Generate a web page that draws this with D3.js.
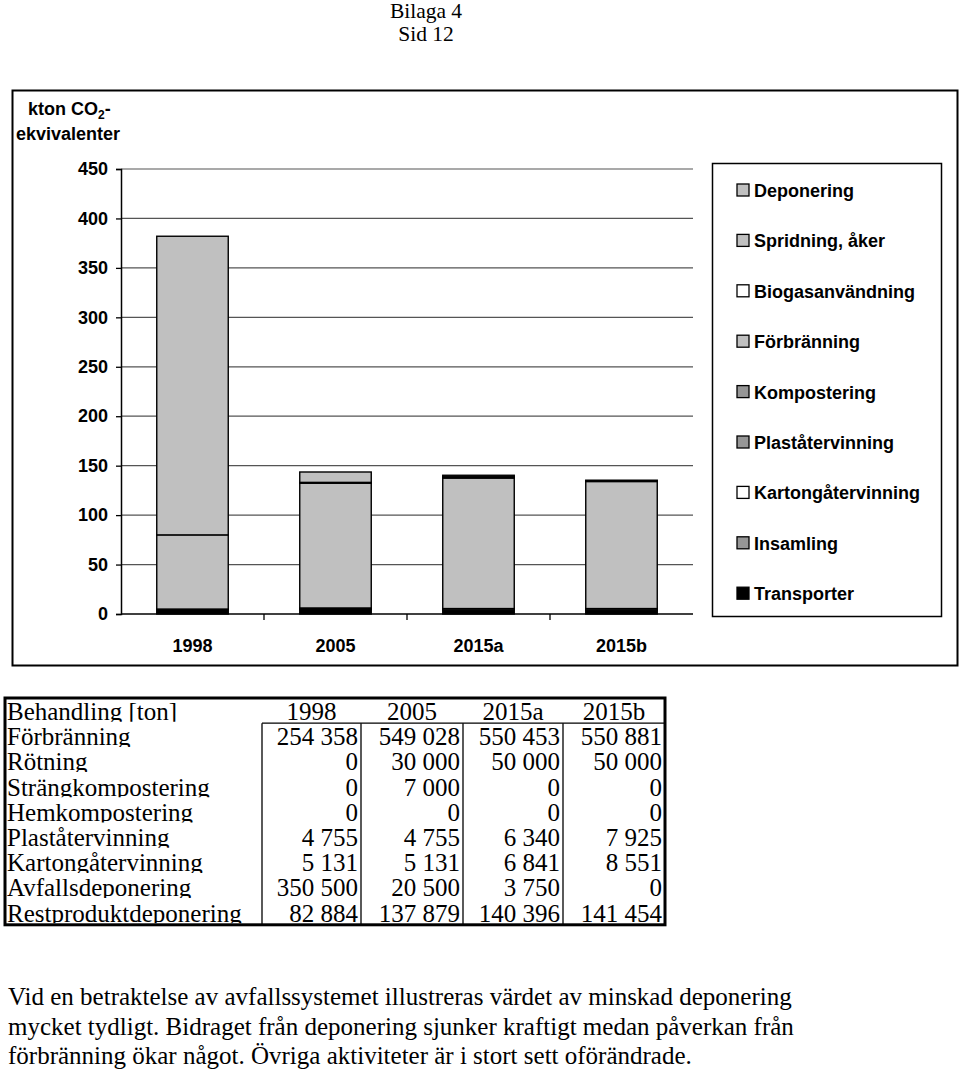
<!DOCTYPE html>
<html><head><meta charset="utf-8">
<script src="https://cdn.jsdelivr.net/npm/d3@7"></script>
<style>body{margin:0;background:#fff}svg{display:block}</style>
</head><body>
<script>
// ---- data ----
const categories = ["1998","2005","2015a","2015b"];
// stack order bottom -> top
const seriesNames = ["Transporter","Insamling","Kartongåtervinning","Plaståtervinning","Kompostering","Förbränning","Biogasanvändning","Spridning, åker","Deponering"];
const transporter = [4.5, 4.5, 4.0, 4.0];
const insamling = [0.5, 0.8, 1.5, 1.5];
const kartong = [0, 0, 0, 0];
const plast = [0, 0, 0, 0];
const kompostering = [0, 0.8, 0, 0];
const forbranning = [75, 126.2, 132, 128.5];
const biogas = [0, 0.5, 0.8, 0.8];
const spridning = [0, 0.3, 0.5, 0.5];
const deponering = [302, 10.5, 1.5, 0];
const seriesValues = [transporter, insamling, kartong, plast, kompostering, forbranning, biogas, spridning, deponering];
const barFill = ["#000000","#c0c0c0","#ffffff","#c0c0c0","#c0c0c0","#c0c0c0","#ffffff","#c0c0c0","#c0c0c0"];
const legendFill = ["#000000","#969696","#ffffff","#969696","#969696","#c0c0c0","#ffffff","#c0c0c0","#c0c0c0"];
const yTicks = [0,50,100,150,200,250,300,350,400,450];

const tableHeader = ["Behandling [ton]","1998","2005","2015a","2015b"];
const tableRows = ["Förbränning","Rötning","Strängkompostering","Hemkompostering","Plaståtervinning","Kartongåtervinning","Avfallsdeponering","Restproduktdeponering"];
const tableValues = [
  ["254 358","549 028","550 453","550 881"],
  ["0","30 000","50 000","50 000"],
  ["0","7 000","0","0"],
  ["0","0","0","0"],
  ["4 755","4 755","6 340","7 925"],
  ["5 131","5 131","6 841","8 551"],
  ["350 500","20 500","3 750","0"],
  ["82 884","137 879","140 396","141 454"]
];
const paragraph = [
  "Vid en betraktelse av avfallssystemet illustreras värdet av minskad deponering",
  "mycket tydligt. Bidraget från deponering sjunker kraftigt medan påverkan från",
  "förbränning ökar något. Övriga aktiviteter är i stort sett oförändrade."
];

// ---- drawing ----
const W = 960, H = 1073;
const svg = d3.select("body").append("svg").attr("width", W).attr("height", H);
const serif = "'Liberation Serif','Times New Roman',serif";
const sans = "'Liberation Sans',Arial,sans-serif";
const FS = 18;

// page header
svg.append("text").attr("x", 426).attr("y", 18).attr("text-anchor","middle")
  .attr("font-family", serif).attr("font-size", 21.5).text("Bilaga 4");
svg.append("text").attr("x", 426).attr("y", 41).attr("text-anchor","middle")
  .attr("font-family", serif).attr("font-size", 21.5).text("Sid 12");

// chart frame
svg.append("rect").attr("x", 12.5).attr("y", 90.5).attr("width", 945).attr("height", 575)
  .attr("fill","none").attr("stroke","#000").attr("stroke-width", 2);

const plot = {left: 121, right: 693, top: 169, bottom: 614};
const x = d3.scaleBand().domain(categories).range([plot.left, plot.right]).paddingInner(0.5).paddingOuter(0.25);
const xOuter = d3.scaleBand().domain(categories).range([plot.left, plot.right]);
const y = d3.scaleLinear().domain([0, 450]).range([plot.bottom, plot.top]);

// gridlines
svg.append("g").selectAll("line").data(yTicks.filter(d => d > 0)).join("line")
  .attr("x1", plot.left).attr("x2", plot.right)
  .attr("y1", d => y(d)).attr("y2", d => y(d))
  .attr("stroke", "#555").attr("stroke-width", 1.2);

// y axis
const yAxis = svg.append("g").attr("transform", `translate(${plot.left},0)`)
  .call(d3.axisLeft(y).tickValues(yTicks).tickSize(5).tickPadding(8));
yAxis.select(".domain").attr("stroke","#000").attr("stroke-width",1.5);
yAxis.selectAll(".tick line").attr("stroke","#000").attr("stroke-width",1.3);
yAxis.selectAll("text").attr("font-family", sans).attr("font-weight","bold").attr("font-size", FS).attr("fill","#000");

// y label
svg.append("text").attr("x", 28).attr("y", 115).attr("font-family", sans).attr("font-weight","bold").attr("font-size", FS)
  .call(t => { t.append("tspan").text("kton CO");
               t.append("tspan").attr("font-size", 12).attr("dy", 4).text("2");
               t.append("tspan").attr("dy", -4).text("-"); });
svg.append("text").attr("x", 16).attr("y", 140).attr("font-family", sans).attr("font-weight","bold").attr("font-size", FS).text("ekvivalenter");

// bars
const stackData = categories.map((c, i) => { const o = {cat: c}; seriesNames.forEach((s, j) => o[s] = seriesValues[j][i]); return o; });
const stacked = d3.stack().keys(seriesNames)(stackData);
stacked.forEach((layer, j) => {
  svg.append("g").selectAll("rect").data(layer.filter(d => d[1] - d[0] > 0)).join("rect")
    .attr("x", d => x(d.data.cat)).attr("width", x.bandwidth())
    .attr("y", d => y(d[1])).attr("height", d => y(d[0]) - y(d[1]))
    .attr("fill", barFill[j]).attr("stroke", "#000").attr("stroke-width", 1.4);
});

// x axis
const xAxisG = svg.append("g").attr("transform", `translate(0,${plot.bottom})`);
xAxisG.append("line").attr("x1", plot.left).attr("x2", plot.right).attr("stroke","#000").attr("stroke-width",1.5);
xAxisG.selectAll(".tk").data(categories.slice(1)).join("line").attr("class","tk")
  .attr("x1", d => xOuter(d)).attr("x2", d => xOuter(d)).attr("y1", 0).attr("y2", 6).attr("stroke","#000").attr("stroke-width",1.3);
xAxisG.selectAll("text").data(categories).join("text")
  .attr("x", d => xOuter(d) + xOuter.bandwidth()/2).attr("y", 38).attr("text-anchor","middle")
  .attr("font-family", sans).attr("font-weight","bold").attr("font-size", FS).text(d => d);

// legend
svg.append("rect").attr("x", 712.5).attr("y", 163.5).attr("width", 229).attr("height", 453)
  .attr("fill","#fff").attr("stroke","#000").attr("stroke-width", 1.5);
const legendOrder = seriesNames.map((s, j) => j).reverse();
const lg = svg.append("g").selectAll("g").data(legendOrder).join("g")
  .attr("transform", (d, i) => `translate(737,${190 + i * 50.4})`);
lg.append("rect").attr("x", 0).attr("y", -6).attr("width", 12).attr("height", 12)
  .attr("fill", d => legendFill[d]).attr("stroke","#000").attr("stroke-width", 1.3);
lg.append("text").attr("x", 17).attr("y", 7).attr("font-family", sans).attr("font-weight","bold").attr("font-size", FS)
  .text(d => seriesNames[d]);

// table
const tb = {left: 5, top: 698, right: 665, rowH: 25.2};
const TFS = 25;
const colEdges = [262, 361, 463, 563, 665];
const rowsAll = [tableHeader].concat(tableRows.map((r, i) => [r].concat(tableValues[i])));
const defs = svg.append("defs");
rowsAll.forEach((row, i) => {
  const top = tb.top + i * tb.rowH;
  defs.append("clipPath").attr("id", "rc" + i).append("rect")
    .attr("x", tb.left).attr("y", top).attr("width", tb.right - tb.left).attr("height", tb.rowH - 1.5);
  const g = svg.append("g").attr("clip-path", `url(#rc${i})`);
  g.append("text").attr("x", 7).attr("y", top + 22).attr("font-family", serif).attr("font-size", TFS).text(row[0]);
  row.slice(1).forEach((v, k) => {
    if (i === 0) {
      g.append("text").attr("x", (colEdges[k] + colEdges[k+1]) / 2).attr("y", top + 22).attr("text-anchor","middle")
        .attr("font-family", serif).attr("font-size", TFS).text(v);
    } else {
      g.append("text").attr("x", colEdges[k+1] - 3).attr("y", top + 22).attr("text-anchor","end")
        .attr("font-family", serif).attr("font-size", TFS).text(v);
    }
  });
});
const tableBottom = tb.top + rowsAll.length * tb.rowH;
// vertical separators in data rows
svg.append("g").selectAll("line").data(colEdges.slice(0, 4)).join("line")
  .attr("x1", d => d).attr("x2", d => d).attr("y1", tb.top + tb.rowH).attr("y2", tableBottom)
  .attr("stroke","#000").attr("stroke-width", 1.3);
svg.append("line").attr("x1", colEdges[0]).attr("x2", tb.right).attr("y1", tb.top + tb.rowH).attr("y2", tb.top + tb.rowH)
  .attr("stroke","#000").attr("stroke-width", 1.3);
svg.append("rect").attr("x", tb.left).attr("y", tb.top).attr("width", tb.right - tb.left).attr("height", tableBottom - tb.top)
  .attr("fill","none").attr("stroke","#000").attr("stroke-width", 3);

// paragraph
svg.append("g").selectAll("text").data(paragraph).join("text")
  .attr("x", 8).attr("y", (d, i) => 1005 + i * 29.5)
  .attr("font-family", serif).attr("font-size", 25).text(d => d);
</script>
</body></html>
